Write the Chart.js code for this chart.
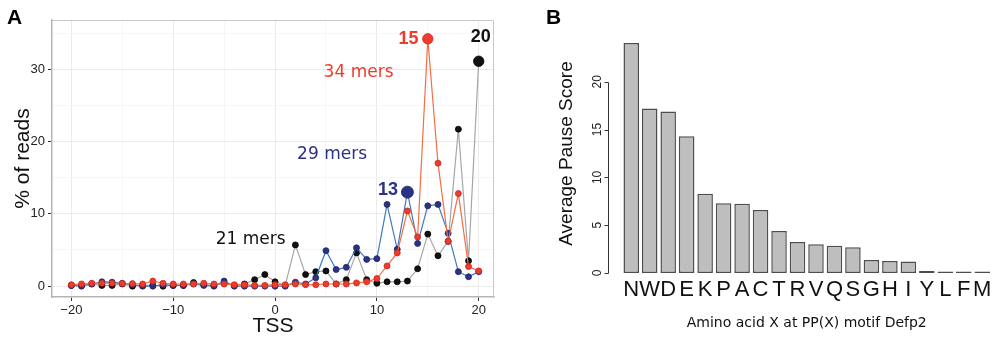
<!DOCTYPE html>
<html>
<head>
<meta charset="utf-8">
<title>Pause figure</title>
<script src="https://cdn.jsdelivr.net/npm/chart.js@4.4.1/dist/chart.umd.min.js"></script>
<style>
  html, body { margin: 0; padding: 0; background: #fff; }
  #wrap { position: relative; width: 1000px; height: 340px; overflow: hidden; }
  canvas { position: absolute; top: 0; }
  #chartA { left: 0; }
  #chartB { left: 500px; }
  .panel { position: absolute; top: 5px; font: bold 21px "Liberation Sans", Arial, sans-serif; color: #000; }
</style>
</head>
<body>
<div id="wrap">
  <canvas id="chartA" width="500" height="340"></canvas>
  <canvas id="chartB" width="500" height="340"></canvas>
  <div class="panel" style="left:7px">A</div>
  <div class="panel" style="left:546px">B</div>
</div>
<script>
// ---- Panel A data: % of reads by TSS position ----
const tss = [-20, -19, -18, -17, -16, -15, -14, -13, -12, -11, -10, -9, -8, -7, -6, -5, -4, -3, -2, -1,
             0, 1, 2, 3, 4, 5, 6, 7, 8, 9, 10, 11, 12, 13, 14, 15, 16, 17, 18, 19, 20];
const mers34 = [0.2, 0.3, 0.4, 0.4, 0.4, 0.35, 0.35, 0.3, 0.7, 0.4, 0.3, 0.3, 0.3, 0.4, 0.3, 0.3, 0.2, 0.2, 0.1, 0.1,
                0.2, 0.2, 0.3, 0.2, 0.2, 0.3, 0.3, 0.3, 0.45, 0.6, 1.05, 2.8, 4.6, 10.4, 6.8, 34.2, 17.0, 6.2, 12.8, 2.7, 2.1];
const mers29 = [0.1, 0.0, 0.3, 0.6, 0.55, 0.4, 0.2, 0.0, 0.0, 0.2, 0.1, 0.1, 0.3, 0.1, 0.0, 0.7, 0.0, 0.0, 0.0, 0.0,
                0.0, 0.0, 0.55, 0.3, 1.15, 4.9, 2.3, 2.6, 5.3, 3.7, 3.8, 11.3, 5.1, 13.0, 5.9, 11.1, 11.3, 7.3, 2.0, 1.3, 2.0];
const mers21 = [0.1, 0.1, 0.3, 0.1, 0.1, 0.3, 0.0, 0.1, 0.1, 0.0, 0.1, 0.1, 0.5, 0.2, 0.1, 0.4, 0.1, 0.3, 0.9, 1.6,
                0.6, 0.1, 5.7, 1.6, 2.0, 2.1, 0.3, 0.9, 4.6, 0.9, 0.4, 0.6, 0.6, 0.7, 2.4, 7.2, 4.2, 6.2, 21.7, 3.5, 31.1];
const tssTicks = [-20, -10, 0, 10, 20];
const readTicks = [0, 10, 20, 30];

// ---- Panel B data: average pause score by amino acid ----
const aminoAcids = ['N', 'W', 'D', 'E', 'K', 'P', 'A', 'C', 'T', 'R', 'V', 'Q', 'S', 'G', 'H', 'I', 'Y', 'L', 'F', 'M'];
const pauseScores = [24.05, 17.2, 16.9, 14.3, 8.3, 7.3, 7.25, 6.6, 4.4, 3.25, 3.0, 2.85, 2.7, 1.36, 1.26, 1.2, 0.2, 0.05, 0.02, 0.02];
const scoreTicks = [0, 5, 10, 15, 20];

const RED = '#ef3b2c', NAVY = '#2c3282', BLACK = '#111111';

// text labels placed in data units of panel A
const notes = [
  { text: '15', x: 13.1, y: 34.2, color: RED, font: 'bold 18px "Liberation Sans"' },
  { text: '20', x: 20.2, y: 34.4, color: BLACK, font: 'bold 18px "Liberation Sans"' },
  { text: '13', x: 11.1, y: 13.3, color: NAVY, font: 'bold 18px "Liberation Sans"' },
  { text: '34 mers', x: 8.2, y: 29.5, color: RED, font: '17px "DejaVu Sans"' },
  { text: '29 mers', x: 5.6, y: 18.2, color: NAVY, font: '17px "DejaVu Sans"' },
  { text: '21 mers', x: -2.4, y: 6.4, color: BLACK, font: '17px "DejaVu Sans"' }
];

function series(values) {
  return tss.map(function (t, i) { return { x: t, y: values[i] }; });
}

function peakRadius(values, big) {
  const peak = values.indexOf(Math.max.apply(null, values));
  return function (c) { return c.dataIndex === peak ? big : 3; };
}

function lineSet(values, pointColor, edgeColor, lineColor, big) {
  return {
    data: series(values),
    borderColor: lineColor,
    borderWidth: 1.2,
    backgroundColor: pointColor,
    pointBackgroundColor: pointColor,
    pointBorderColor: edgeColor,
    pointBorderWidth: 0.8,
    pointRadius: peakRadius(values, big),
    tension: 0
  };
}

const gridColor = function (c) {
  return c.tick && c.tick.value % 10 === 0 ? '#ebebeb' : '#f6f6f6';
};
const tickMarkColor = function (c) {
  return c.tick && c.tick.value % 10 === 0 ? '#333' : 'rgba(0,0,0,0)';
};

// gray frame on top and right of panel A
const panelFrame = {
  id: 'panelFrame',
  afterDraw(chart) {
    const a = chart.chartArea, ctx = chart.ctx;
    ctx.save();
    ctx.strokeStyle = '#c8c8c8';
    ctx.lineWidth = 1;
    ctx.beginPath();
    ctx.moveTo(a.left, a.top + 0.5);
    ctx.lineTo(a.right - 0.5, a.top + 0.5);
    ctx.lineTo(a.right - 0.5, a.bottom);
    ctx.stroke();
    ctx.restore();
  }
};

const noteLabels = {
  id: 'noteLabels',
  afterDatasetsDraw(chart) {
    const ctx = chart.ctx, xs = chart.scales.x, ys = chart.scales.y;
    ctx.save();
    ctx.textAlign = 'center';
    ctx.textBaseline = 'middle';
    notes.forEach(function (n) {
      ctx.font = n.font;
      ctx.fillStyle = n.color;
      ctx.fillText(n.text, xs.getPixelForValue(n.x), ys.getPixelForValue(n.y));
    });
    ctx.restore();
  }
};

new Chart(document.getElementById('chartA').getContext('2d'), {
  type: 'line',
  data: {
    datasets: [
      lineSet(mers34, RED, '#c42a1f', '#f46d43', 5.2),
      lineSet(mers29, NAVY, '#1f2466', '#4178be', 6),
      lineSet(mers21, BLACK, '#000', '#a6a6a6', 5.2)
    ]
  },
  options: {
    responsive: false,
    animation: false,
    layout: { padding: { top: 20, right: 4, left: 0, bottom: 0 } },
    plugins: { legend: { display: false }, tooltip: { enabled: false } },
    scales: {
      x: {
        type: 'linear',
        min: -21.9,
        max: 21.5,
        afterFit: function (s) { s.height = 43; },
        grid: { color: gridColor, tickColor: tickMarkColor, tickLength: 4, lineWidth: 1 },
        border: { color: '#b5b5b5', width: 1.5 },
        ticks: {
          stepSize: 5,
          includeBounds: false,
          autoSkip: false,
          maxRotation: 0,
          padding: 2,
          color: '#222',
          font: { family: 'Liberation Sans', size: 13 },
          callback: function (v) { return tssTicks.indexOf(v) >= 0 ? String(v).replace('-', '\u2212') : ''; }
        },
        title: {
          display: true, text: 'TSS', color: '#111',
          font: { family: 'Liberation Sans', size: 21 },
          padding: { top: 0, bottom: 1 }
        }
      },
      y: {
        min: -1.5,
        max: 36.8,
        afterFit: function (s) { s.width = 52; },
        grid: { color: gridColor, tickColor: tickMarkColor, tickLength: 4, lineWidth: 1 },
        border: { color: '#b5b5b5', width: 1.5 },
        ticks: {
          stepSize: 5,
          includeBounds: false,
          padding: 3,
          color: '#222',
          font: { family: 'Liberation Sans', size: 13 },
          callback: function (v) { return readTicks.indexOf(v) >= 0 ? String(v) : ''; }
        },
        title: {
          display: true, text: '% of reads', color: '#111',
          font: { family: 'Liberation Sans', size: 21 },
          padding: { top: 11, bottom: 0 }
        }
      }
    }
  },
  plugins: [panelFrame, noteLabels]
});

// base-graphics style y axis for panel B, set off from the bars
const offsetAxis = {
  id: 'offsetAxis',
  afterDraw(chart) {
    const ys = chart.scales.y, ctx = chart.ctx;
    const x0 = chart.chartArea.left - 13.5;
    ctx.save();
    ctx.strokeStyle = '#333';
    ctx.lineWidth = 1;
    ctx.beginPath();
    ctx.moveTo(x0, Math.round(ys.getPixelForValue(scoreTicks[0])) + 0.5);
    ctx.lineTo(x0, Math.round(ys.getPixelForValue(scoreTicks[scoreTicks.length - 1])) + 0.5);
    scoreTicks.forEach(function (v) {
      const p = Math.round(ys.getPixelForValue(v)) + 0.5;
      ctx.moveTo(x0 - 4, p);
      ctx.lineTo(x0, p);
    });
    ctx.stroke();
    ctx.font = '12px "Liberation Sans"';
    ctx.fillStyle = '#222';
    ctx.textAlign = 'center';
    ctx.textBaseline = 'middle';
    scoreTicks.forEach(function (v) {
      ctx.save();
      ctx.translate(x0 - 11, ys.getPixelForValue(v));
      ctx.rotate(-Math.PI / 2);
      ctx.fillText(String(v), 0, 0);
      ctx.restore();
    });
    ctx.restore();
  }
};

new Chart(document.getElementById('chartB').getContext('2d'), {
  type: 'bar',
  data: {
    labels: aminoAcids,
    datasets: [{
      data: pauseScores,
      backgroundColor: '#bebebe',
      borderColor: '#4d4d4d',
      borderWidth: 1.5,
      borderSkipped: false,
      minBarLength: 1.5,
      barPercentage: 0.84,
      categoryPercentage: 1,
      clip: 4
    }]
  },
  options: {
    responsive: false,
    animation: false,
    layout: { padding: { top: 34, right: 8.5, left: 0, bottom: 0 } },
    plugins: { legend: { display: false }, tooltip: { enabled: false } },
    scales: {
      x: {
        afterFit: function (s) { s.height = 67; },
        grid: { display: false, drawTicks: false },
        border: { display: false },
        ticks: {
          autoSkip: false,
          maxRotation: 0,
          padding: 4,
          color: '#111',
          font: { family: 'Liberation Sans', size: 22 }
        },
        title: {
          display: true, text: 'Amino acid X at PP(X) motif Defp2', color: '#111',
          font: { family: 'DejaVu Sans', size: 14 },
          padding: { top: 0, bottom: 8 }
        }
      },
      y: {
        min: 0,
        max: 25,
        afterFit: function (s) { s.width = 122; },
        grid: { display: false, drawTicks: false },
        border: { display: false },
        ticks: { display: false },
        title: {
          display: true, text: 'Average Pause Score', color: '#111',
          font: { family: 'Liberation Sans', size: 19 },
          padding: { top: 55, bottom: 0 }
        }
      }
    }
  },
  plugins: [offsetAxis]
});
</script>
</body>
</html>
